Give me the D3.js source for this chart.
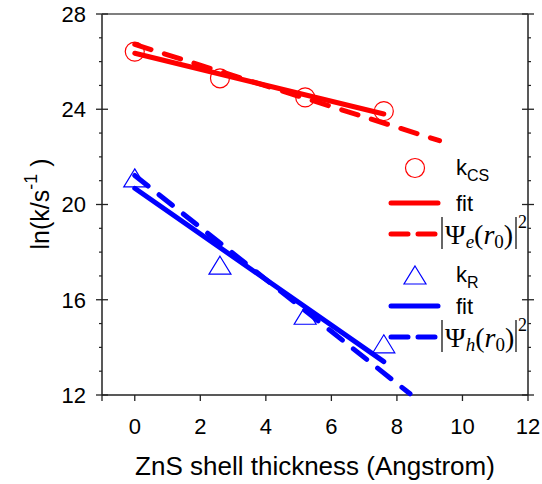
<!DOCTYPE html>
<html><head><meta charset="utf-8">
<script src="https://cdn.jsdelivr.net/npm/d3@7"></script>
<style>body{margin:0;background:#fff}svg{display:block}</style>
</head><body>
<svg id="c" width="542" height="484"></svg>
<script>
// ---- data ----
const shell = [0, 2.6, 5.2, 7.6];
const kCS = [26.42, 25.30, 24.50, 23.92];
const kR = [21.12, 17.45, 15.35, 14.15];
const fitCSx = [0, 7.6], fitCS = [26.35, 23.80];
const psiEx = [0, 9.3], psiE = [26.72, 22.68];
const fitRx = [0, 7.6], fitR = [20.68, 13.40];
const psiHx = [0, 8.4], psiH = [21.22, 12.05];
const xTicks = [0, 2, 4, 6, 8, 10, 12];
const yTicks = [12, 16, 20, 24, 28];
const yMinor = d3.range(12, 29, 1).filter(v => v % 4 !== 0);

const RED = "#ff0000", BLUE = "#0000ff";
const svg = d3.select("#c");
const x = d3.scaleLinear().domain([-1, 12]).range([102, 528]);
const y = d3.scaleLinear().domain([12, 28]).range([395, 14]);
const x0 = x.range()[0], x1 = x.range()[1], y0 = y.range()[0], y1 = y.range()[1];
const AX = "#222";
const font = "Liberation Sans, Arial, sans-serif";

// frame
const g = svg.append("g");
g.append("line").attr("x1", x0).attr("x2", x0).attr("y1", y0).attr("y2", y1).attr("stroke", AX).attr("stroke-width", 1.5);
g.append("line").attr("x1", x1).attr("x2", x1).attr("y1", y0).attr("y2", y1).attr("stroke", AX).attr("stroke-width", 1.5);
g.append("line").attr("x1", x0).attr("x2", x1).attr("y1", y0).attr("y2", y0).attr("stroke", AX).attr("stroke-width", 1.5);
g.append("line").attr("x1", x0).attr("x2", x1).attr("y1", y1).attr("y2", y1).attr("stroke", "#555").attr("stroke-width", 1.5);

// y ticks (both sides)
yTicks.forEach(v => {
  g.append("line").attr("x1", x0 - 6).attr("x2", x0 + 6).attr("y1", y(v)).attr("y2", y(v)).attr("stroke", AX).attr("stroke-width", 1.3);
  g.append("line").attr("x1", x1 - 6).attr("x2", x1 + 6).attr("y1", y(v)).attr("y2", y(v)).attr("stroke", AX).attr("stroke-width", 1.3);
  g.append("text").attr("x", 86).attr("y", y(v)).attr("dy", "0.36em").attr("text-anchor", "end")
    .attr("font-family", font).attr("font-size", 22).text(v);
});
yMinor.forEach(v => {
  g.append("line").attr("x1", x0 - 3).attr("x2", x0).attr("y1", y(v)).attr("y2", y(v)).attr("stroke", AX).attr("stroke-width", 1.2);
  g.append("line").attr("x1", x1).attr("x2", x1 + 3).attr("y1", y(v)).attr("y2", y(v)).attr("stroke", AX).attr("stroke-width", 1.2);
});
// x ticks
xTicks.forEach(v => {
  g.append("line").attr("x1", x(v)).attr("x2", x(v)).attr("y1", y0).attr("y2", y0 + 6).attr("stroke", AX).attr("stroke-width", 1.3);
  g.append("text").attr("x", x(v)).attr("y", 434).attr("text-anchor", "middle")
    .attr("font-family", font).attr("font-size", 22).text(v);
});
g.append("line").attr("x1", x0).attr("x2", x0).attr("y1", y0).attr("y2", y0 + 6).attr("stroke", AX).attr("stroke-width", 1.3);

// axis titles
svg.append("text").attr("x", (x0 + x1) / 2).attr("y", 475).attr("text-anchor", "middle")
  .attr("font-family", font).attr("font-size", 26)
  .text("ZnS shell thickness (Angstrom)");
const yt = svg.append("text").attr("transform", "translate(49,204) rotate(-90)").attr("text-anchor", "middle")
  .attr("font-family", font).attr("font-size", 25);
yt.append("tspan").text("ln(k/s");
yt.append("tspan").attr("font-size", 18).attr("dy", -12).text("-1");
yt.append("tspan").attr("dy", 12).text(" )");

// lines
const line = d3.line().x(d => x(d[0])).y(d => y(d[1]));
function drawLine(xs, ys, color, dashed) {
  svg.append("path").datum(xs.map((v, i) => [v, ys[i]])).attr("d", line)
    .attr("fill", "none").attr("stroke", color).attr("stroke-width", 5).attr("stroke-linecap", "round")
    .attr("stroke-dasharray", dashed ? "17,14" : null);
}
drawLine(psiEx, psiE, RED, true);
drawLine(fitCSx, fitCS, RED, false);
drawLine(psiHx, psiH, BLUE, true);
drawLine(fitRx, fitR, BLUE, false);

// markers
const triPath = (cx, cy) => `M${cx},${cy - 9}L${cx + 11},${cy + 9}L${cx - 11},${cy + 9}Z`;
svg.selectAll("circle.cs").data(shell.map((v, i) => [v, kCS[i]])).join("circle")
  .attr("cx", d => x(d[0])).attr("cy", d => y(d[1])).attr("r", 9.5)
  .attr("fill", "none").attr("stroke", RED).attr("stroke-width", 1.2);
svg.selectAll("path.tri").data(shell.map((v, i) => [v, kR[i]])).join("path")
  .attr("d", d => triPath(x(d[0]), y(d[1]))).attr("fill", "none").attr("stroke", BLUE).attr("stroke-width", 1.2);

// legend
const L = svg.append("g");
const lx0 = 391, lx1 = 438, tx = 456;
L.append("circle").attr("cx", 415).attr("cy", 168).attr("r", 9.5).attr("fill", "none").attr("stroke", RED).attr("stroke-width", 1.2);
const t1 = L.append("text").attr("x", tx).attr("y", 175).attr("font-family", font).attr("font-size", 22);
t1.append("tspan").text("k"); t1.append("tspan").attr("font-size", 16).attr("dy", 6).text("CS");
function legLine(yy, color, dashed) {
  L.append("line").attr("x1", lx0).attr("x2", lx1).attr("y1", yy).attr("y2", yy).attr("stroke", color)
    .attr("stroke-width", 5).attr("stroke-linecap", "round").attr("stroke-dasharray", dashed ? "17,10" : null);
}
legLine(203, RED, false);
L.append("text").attr("x", tx).attr("y", 211).attr("font-family", font).attr("font-size", 22).text("fit");
legLine(234, RED, true);
function psi(yy, sub) {
  const serif = "Liberation Serif, Times New Roman, serif";
  L.append("line").attr("x1", 442).attr("x2", 442).attr("y1", yy - 17).attr("y2", yy + 15).attr("stroke", "#000").attr("stroke-width", 1.2);
  const t = L.append("text").attr("x", 445).attr("y", yy + 10).attr("font-family", serif).attr("font-size", 28);
  t.append("tspan").text("Ψ");
  t.append("tspan").attr("font-size", 19).attr("font-style", "italic").attr("dy", 4).text(sub);
  t.append("tspan").attr("dy", -4).text("(");
  t.append("tspan").attr("font-style", "italic").text("r");
  t.append("tspan").attr("font-size", 19).attr("dy", 4).text("0");
  t.append("tspan").attr("dy", -4).text(")");
  L.append("line").attr("x1", 516).attr("x2", 516).attr("y1", yy - 17).attr("y2", yy + 15).attr("stroke", "#000").attr("stroke-width", 1.2);
  L.append("text").attr("x", 518).attr("y", yy - 6).attr("font-family", serif).attr("font-size", 18).text("2");
}
psi(234, "e");
L.append("path").attr("d", triPath(415, 275)).attr("fill", "none").attr("stroke", BLUE).attr("stroke-width", 1.2);
const t2 = L.append("text").attr("x", tx).attr("y", 282).attr("font-family", font).attr("font-size", 22);
t2.append("tspan").text("k"); t2.append("tspan").attr("font-size", 16).attr("dy", 6).text("R");
legLine(306, BLUE, false);
L.append("text").attr("x", tx).attr("y", 314).attr("font-family", font).attr("font-size", 22).text("fit");
legLine(337, BLUE, true);
psi(337, "h");
</script>
</body></html>
